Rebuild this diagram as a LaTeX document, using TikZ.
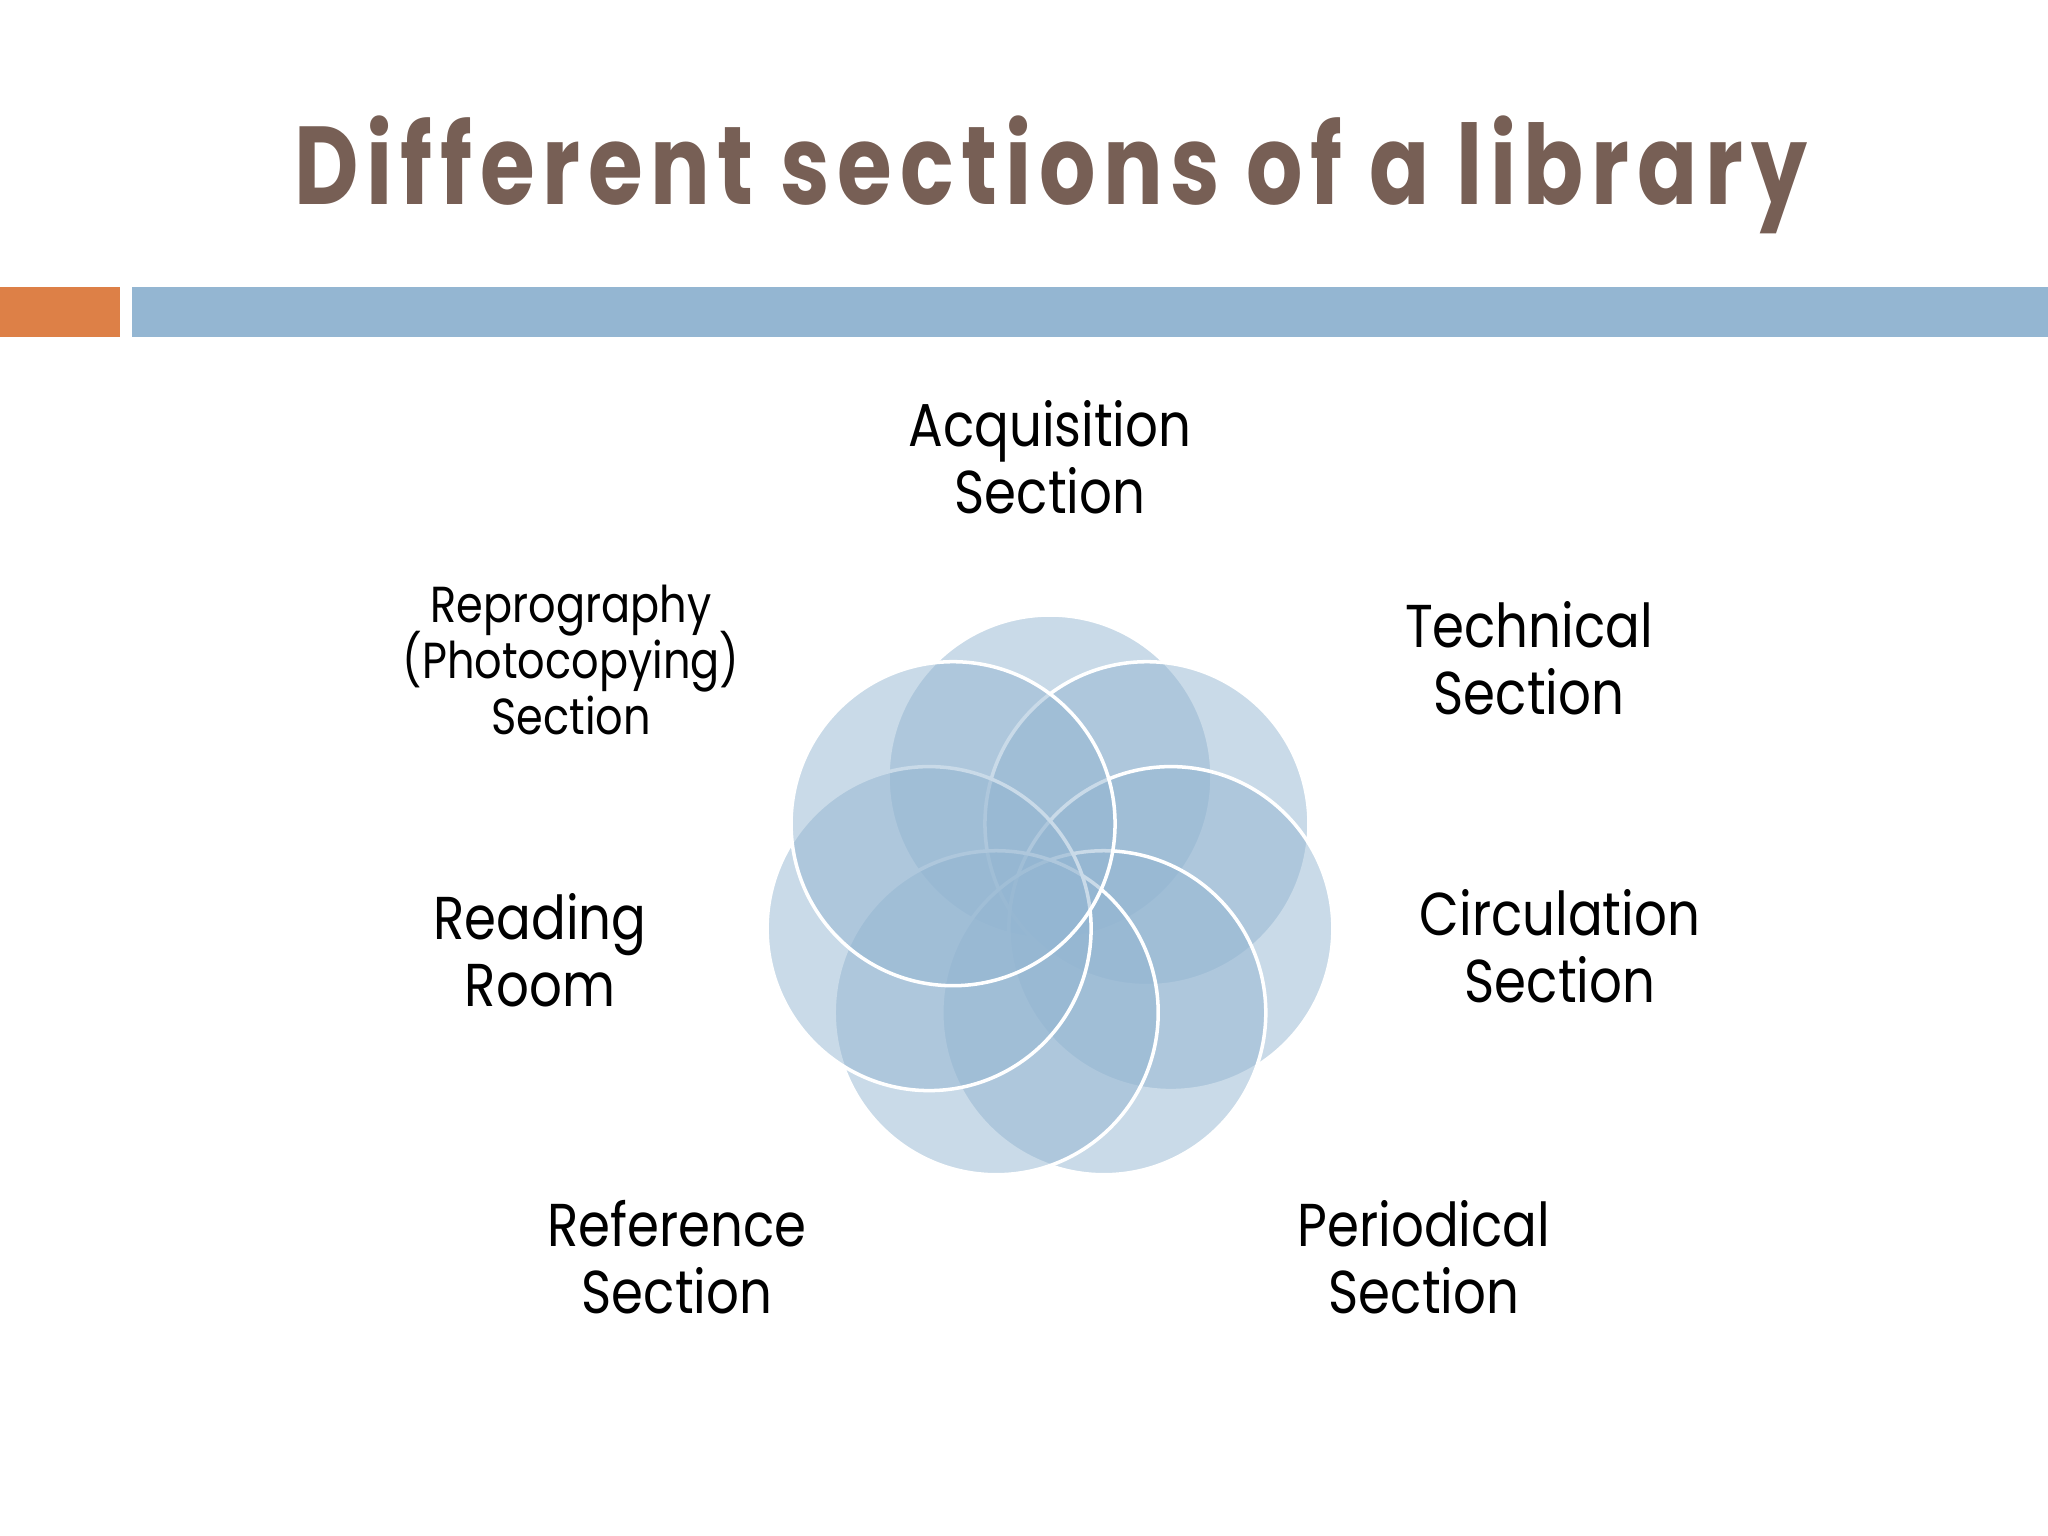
\documentclass[tikz,border=0pt]{standalone}
\usepackage{fontspec}
\setmainfont{Poppins}
\newfontfamily\titlefont{Poppins}[FakeStretch=0.8, LetterSpace=7]
\newfontfamily\labelfont{Poppins}[FakeStretch=0.85]
\newcommand{\tightlines}{\setlength{\lineskiplimit}{-20pt}}
\usetikzlibrary{positioning}
\definecolor{barblue}{RGB}{148,182,210}
\definecolor{barorange}{RGB}{221,128,71}
\definecolor{titlebrown}{RGB}{119,95,85}

\begin{document}
\begin{tikzpicture}[x=0.01cm,y=-0.01cm,
        section/.style={font=\labelfont\fontsize{17.2}{19}\selectfont, align=center, inner sep=0pt},
        smallsection/.style={font=\labelfont\fontsize{14.4}{15.8}\selectfont\tightlines, align=center, inner sep=0pt},
        petal/.style={fill=barblue, fill opacity=0.5, draw=white, line width=1pt}]
        % Page
        \useasboundingbox[fill=white] (0,0) rectangle (2048,1536);
        % Title
        \node[anchor=base, text=titlebrown, inner sep=0pt,
            font=\titlefont\bfseries\fontsize{31.5}{36}\selectfont] (title) at (1051,204) {Different sections of a library};
        % Bars
        \fill[barorange] (0,287) rectangle (120,337);
        \fill[barblue] (132,287) rectangle (2048,337);
        % Petals, clockwise from the top
        \foreach \i in {0,...,6}
            \filldraw[petal] ({1050+124*cos(90-\i*360/7)},{901-124*sin(90-\i*360/7)}) circle (162);
        % Labels
        \node[section] (acq) at (1050,457) {Acquisition\\Section};
        \node[section] (tech) at (1529,658) {Technical\\Section};
        \node[section] (circ) at (1560,946) {Circulation\\Section};
        \node[section] (peri) at (1424,1257) {Periodical\\Section};
        \node[section] (refs) at (677,1257) {Reference\\Section};
        \node[section] (read) at (540,950) {Reading\\Room};
        \node[smallsection] (repro) at (571,660) {Reprography\\(Photocopying)\\Section};
    \end{tikzpicture}
\end{document}
